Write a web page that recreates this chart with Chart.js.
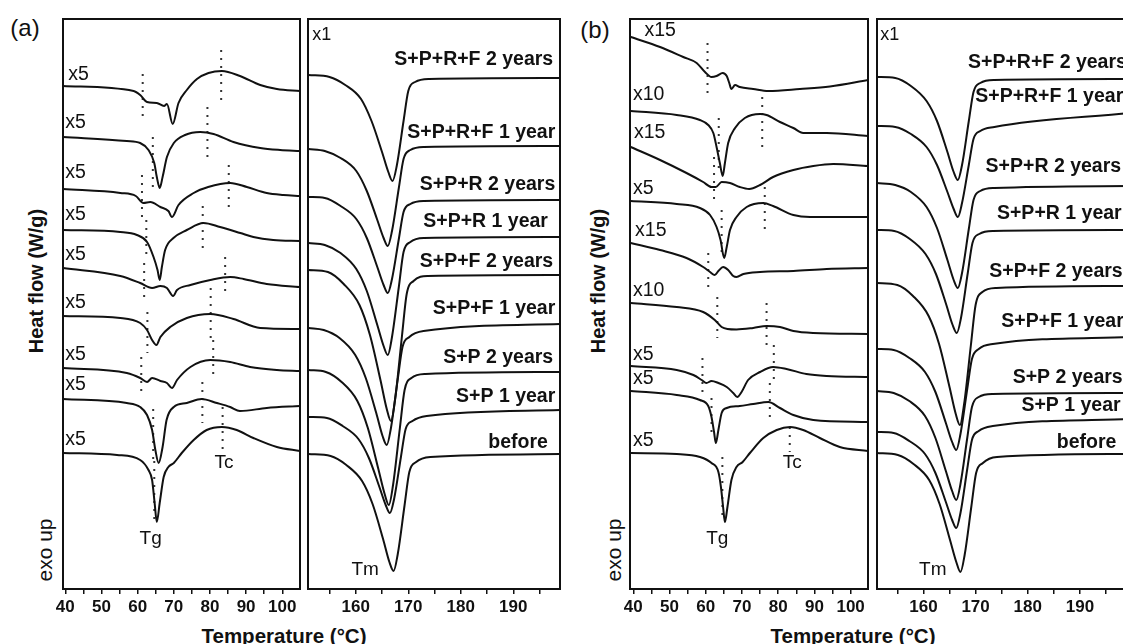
<!DOCTYPE html>
<html>
<head>
<meta charset="utf-8">
<title>DSC curves</title>
<script src="https://cdn.jsdelivr.net/npm/chart.js@4.4.1/dist/chart.umd.min.js"></script>
<style>
  html, body { margin: 0; padding: 0; background: #fff; }
  body { width: 1123px; height: 644px; overflow: hidden; position: relative;
         font-family: "Liberation Sans", Arial, sans-serif; color: #111; }
  canvas { position: absolute; }
  .txt { position: absolute; white-space: nowrap; line-height: 1; }
  .rot { transform: translate(-50%, -50%) rotate(-90deg); }
  .ctr { transform: translate(-50%, -50%); }
</style>
</head>
<body>
<div class="txt ctr" style="left:25px;top:28px;font-size:24px">(a)</div>
<div class="txt ctr" style="left:595px;top:30px;font-size:24px">(b)</div>
<div class="txt rot" style="left:36px;top:281px;font-size:20px;font-weight:bold">Heat flow (W/g)</div>
<div class="txt rot" style="left:598px;top:281px;font-size:20px;font-weight:bold">Heat flow (W/g)</div>
<div class="txt rot" style="left:44px;top:550px;font-size:21px">exo up</div>
<div class="txt rot" style="left:613px;top:550px;font-size:21px">exo up</div>
<div class="txt" style="left:284px;top:626px;font-size:20.5px;font-weight:bold;transform:translateX(-50%)">Temperature (°C)</div>
<div class="txt" style="left:853px;top:626px;font-size:20.5px;font-weight:bold;transform:translateX(-50%)">Temperature (°C)</div>

<canvas id="aLow" width="269" height="616" style="left:47px;top:13px"></canvas>
<canvas id="aHigh" width="284" height="616" style="left:292px;top:13px"></canvas>
<canvas id="bLow" width="270" height="616" style="left:614px;top:13px"></canvas>
<canvas id="bHigh" width="285" height="616" style="left:861px;top:13px"></canvas>

<script>
// ---- tick labels ----
const LOW_MAJOR = [40, 50, 60, 70, 80, 90, 100];
const LOW_MINOR = [45, 55, 65, 75, 85, 95];
const HIGH_MAJOR = [160, 170, 180, 190];
const HIGH_MINOR = [155, 165, 175, 185, 195];

// ---- sample names (top to bottom) and magnification of the low-T curves ----
const SAMPLES = ['S+P+R+F 2 years', 'S+P+R+F 1 year', 'S+P+R 2 years', 'S+P+R 1 year',
  'S+P+F 2 years', 'S+P+F 1 year', 'S+P 2 years', 'S+P 1 year', 'before'];
const FACTOR_A = ['x5', 'x5', 'x5', 'x5', 'x5', 'x5', 'x5', 'x5', 'x5'];
const FACTOR_B = ['x15', 'x10', 'x15', 'x5', 'x15', 'x10', 'x5', 'x5', 'x5'];

// ---- (a) 40-105 °C, [T, heat flow (a.u., shifted)] ----
const aLow1 = [[39.4,50.3],[58.9,49.8],[60.7,49.4],[62.6,48.7],[65.3,48.6],[67.3,48.3],[68.1,48.5],[69.7,46.5],[71.3,48.6],[73.6,49.9],[76.4,51.0],[79.6,51.6],[83.3,51.8],[88.3,51.3],[93.9,50.4],[98.5,50.0],[104.9,49.8]];
const aLow2 = [[39.4,45.2],[57.0,44.8],[60.7,44.6],[63.0,43.9],[64.6,42.6],[65.3,41.2],[66.1,40.1],[66.9,41.2],[68.1,43.2],[70.0,44.6],[73.1,45.4],[77.3,45.7],[81.0,45.5],[86.5,44.7],[93.9,44.1],[99.4,43.9],[104.9,43.8]];
const aLow3 = [[39.4,40.0],[55.2,39.6],[59.5,39.3],[61.6,38.6],[63.5,38.7],[66.3,38.2],[68.5,37.8],[69.5,37.2],[71.3,38.4],[75.5,39.6],[79.5,40.2],[85.6,40.6],[90.2,40.2],[95.7,39.6],[100.3,39.4],[104.9,39.3]];
const aLow4 = [[39.4,35.9],[55.2,35.7],[59.8,35.4],[62.6,34.7],[64.4,33.2],[65.5,31.9],[66.1,30.9],[66.7,32.2],[67.6,33.9],[69.9,35.1],[73.6,35.9],[78.2,36.6],[82.8,36.2],[88.4,35.6],[92.0,35.2],[97.5,34.9],[104.9,34.8]];
const aLow5 = [[39.4,32.1],[55.2,31.3],[60.7,30.6],[64.0,30.1],[66.3,30.3],[68.1,30.1],[69.8,29.3],[70.9,29.9],[74.6,30.4],[80.1,30.9],[85.6,31.2],[89.3,31.0],[95.7,30.5],[104.9,30.2]];
const aLow6 = [[39.4,27.3],[55.2,27.1],[60.7,26.6],[62.6,25.9],[64.0,24.9],[65.2,24.4],[66.3,25.2],[69.0,26.2],[73.6,27.1],[80.1,27.5],[86.5,27.0],[93.9,26.1],[104.9,26.0]];
const aLow7 = [[39.4,22.1],[57.0,21.6],[60.7,21.1],[62.6,20.7],[64.0,21.1],[66.3,20.8],[68.1,20.6],[69.5,20.1],[70.9,20.9],[74.6,22.2],[80.1,22.9],[85.6,22.7],[91.1,22.2],[98.5,21.9],[104.9,21.8]];
const aLow8 = [[39.4,19.0],[57.0,18.6],[60.7,18.2],[62.6,17.4],[64.0,15.9],[64.9,13.9],[65.8,12.6],[66.9,14.2],[68.0,16.9],[70.0,18.2],[73.6,18.6],[77.7,19.0],[81.9,18.6],[85.6,18.2],[88.3,17.8],[95.7,18.1],[104.9,18.3]];
const aLow9 = [[39.4,13.6],[54.3,13.4],[60.7,12.9],[63.0,11.9],[64.0,10.9],[64.7,8.6],[65.3,6.7],[66.1,8.6],[67.2,11.2],[68.5,12.2],[70.0,12.6],[72.2,13.6],[75.5,14.9],[79.1,15.9],[83.3,16.2],[87.4,15.9],[92.0,15.1],[98.5,14.2],[104.9,13.8]];

// dotted marks [T, top, bottom]
const A_TG = [[61.4,51.5,47.2],[64.2,45.2,40.2],[61.2,41.4,37.2],[62.4,36.9,33.0],[61.8,32.6,28.9],[62.7,27.7,23.6],[61.0,23.2,19.6],[64.3,18.0,13.0],[64.6,12.8,6.9]];
const A_TC = [[83.1,53.9,48.9],[79.3,48.2,43.2],[85.2,42.4,38.2],[78.0,38.3,34.1],[84.2,33.2,29.2],[80.2,30.1,25.0],[80.9,24.9,20.9],[77.9,20.7,16.6],[83.5,18.2,13.8]];

// ---- (a) 150-200 °C ----
const aHigh1 = [[151,51.4],[155,51.2],[158,50.4],[161,49.0],[163,46.8],[165,43.7],[166.2,41.7],[167,40.8],[167.8,42.3],[169.1,46.8],[170,49.8],[171.3,50.7],[174,51.0],[199,51.1]];
const aHigh2 = [[151,44.0],[154.1,43.8],[157.1,43.1],[160.1,41.8],[162.1,39.8],[164.1,36.9],[165.3,35.1],[166.1,34.3],[166.9,35.8],[168.2,40.1],[169.1,43.0],[170.4,43.9],[173,44.2],[199,44.3]];
const aHigh3 = [[151,39.2],[154.1,39.1],[157.1,38.3],[160.1,37.0],[162.1,35.1],[164.1,32.2],[165.3,30.4],[166.1,29.6],[166.9,31.0],[168.2,35.0],[169.1,37.7],[170.4,38.5],[173,38.8],[199,38.9]];
const aHigh4 = [[151,34.6],[154.1,34.4],[157.1,33.6],[160.1,32.0],[162.1,29.8],[164.1,26.4],[165.3,24.3],[166.1,23.4],[166.9,25.2],[168.2,30.2],[169.1,33.7],[170.4,34.7],[173,35.1],[199,35.2]];
const aHigh5 = [[151,31.9],[154.7,31.7],[157.7,30.5],[160.7,28.4],[162.7,25.4],[164.7,20.9],[165.9,18.0],[166.7,16.8],[167.5,19.0],[168.8,25.3],[169.7,29.5],[171,30.8],[173.7,31.3],[199,31.4]];
const aHigh6 = [[151,26.1],[153.9,25.9],[156.9,25.1],[159.9,23.4],[161.9,21.1],[163.9,17.6],[165.1,15.3],[165.9,14.4],[166.7,16.1],[168.0,21.0],[168.9,24.2],[170.2,25.2],[172.9,25.8],[199,26.5]];
const aHigh7 = [[151,21.9],[154.3,21.7],[157.3,20.7],[160.3,18.8],[162.3,16.1],[164.3,12.0],[165.5,9.5],[166.3,8.4],[167.1,10.4],[168.4,16.1],[169.3,19.9],[170.6,21.1],[173.3,21.5],[199,21.7]];
const aHigh8 = [[151,17.2],[154.5,17.1],[157.5,16.3],[160.5,15.0],[162.5,13.1],[164.5,10.2],[165.7,8.4],[166.5,7.6],[167.3,9.0],[168.6,13.2],[169.5,16.0],[170.8,16.8],[173.5,17.3],[199,17.9]];
const aHigh9 = [[151,13.5],[155.2,13.3],[158.2,12.4],[161.2,10.8],[163.2,8.5],[165.2,5.0],[166.4,2.7],[167.2,1.8],[168,3.5],[169.3,8.4],[170.2,11.7],[171.5,12.7],[174.2,13.2],[199,13.5]];

// ---- (b) 40-105 °C ----
const bLow1 = [[39.3,55.2],[47.4,54.2],[53.8,53.2],[57.5,52.6],[59.8,51.7],[61.6,51.2],[63.0,51.3],[64.7,51.6],[65.8,51.3],[66.5,50.6],[67.1,50.0],[68.1,50.4],[69.4,50.2],[73.1,50.0],[77.3,49.8],[86.0,50.0],[94.3,50.25],[104.9,50.9]];
const bLow2 = [[39.3,47.8],[52.0,47.4],[58.4,46.9],[60.7,46.4],[62.1,45.6],[63.0,44.2],[63.9,42.6],[64.7,41.3],[65.3,42.6],[66.2,44.6],[68.1,46.1],[70.8,47.1],[75.0,47.5],[76.8,47.4],[80.5,46.7],[84.2,46.1],[86.9,45.6],[93.4,45.6],[104.9,45.3]];
const bLow3 = [[39.3,44.2],[47.4,42.9],[54.7,41.6],[59.3,40.7],[61.6,40.2],[62.8,40.2],[64.4,40.7],[66.7,40.6],[69.4,40.2],[72.0,40.0],[75.0,40.4],[78.6,41.2],[84.2,41.9],[89.7,42.3],[95.2,42.5],[104.9,42.3]];
const bLow4 = [[39.3,38.8],[52.0,38.5],[58.4,38.1],[61.2,37.4],[63.0,36.2],[64.1,34.9],[65.1,33.1],[65.8,34.2],[66.7,35.9],[68.5,37.2],[71.3,38.2],[75.9,38.6],[78.6,38.3],[84.2,37.4],[88.8,37.2],[104.9,37.2]];
const bLow5 = [[39.3,34.6],[47.4,33.9],[54.7,33.1],[59.3,32.2],[61.2,31.7],[62.5,31.4],[63.5,31.8],[64.8,32.2],[66.2,31.9],[67.6,31.3],[68.5,31.2],[70.4,31.5],[75.0,31.7],[84.2,31.8],[93.4,32.0],[104.9,32.1]];
const bLow6 = [[39.3,28.6],[52.0,28.2],[59.3,27.7],[62.5,26.9],[64.4,26.2],[66.0,26.0],[68.5,25.95],[73.1,26.1],[76.8,26.3],[80.5,26.2],[84.2,25.8],[89.7,25.6],[104.9,25.5]];
const bLow7 = [[39.3,22.3],[52.0,21.9],[56.6,21.4],[58.9,20.9],[60.2,20.6],[61.6,20.8],[63.5,20.6],[65.8,20.2],[67.6,19.6],[68.7,19.2],[69.9,19.7],[71.7,20.9],[75.0,21.7],[78.6,22.2],[82.3,22.0],[87.8,21.5],[93.4,21.3],[104.9,21.2]];
const bLow8 = [[39.3,19.8],[52.0,19.4],[58.4,18.9],[60.7,18.3],[61.6,17.2],[62.3,15.7],[62.8,14.6],[63.5,15.9],[64.4,17.6],[65.8,18.1],[69.4,18.3],[73.1,18.5],[77.3,18.7],[80.5,18.1],[84.2,17.4],[89.7,16.9],[104.9,16.7]];
const bLow9 = [[39.3,13.6],[52.0,13.5],[58.4,13.2],[61.6,12.6],[63.5,11.7],[64.2,10.2],[64.8,8.2],[65.3,6.7],[66.0,8.2],[67.1,10.9],[68.5,12.2],[70.2,12.7],[72.2,13.6],[75.9,15.1],[79.6,15.9],[83.3,16.2],[86.9,15.9],[91.5,15.1],[97.0,14.2],[104.9,13.8]];

const B_TG = [[60.5,54.6,49.6],[63.6,47.1,41.9],[62.3,43.2,38.9],[64.4,37.9,33.6],[60.7,33.6,29.6],[63.2,29.2,25.1],[59.1,23.1,19.6],[61.6,19.1,15.6],[64.6,13.2,6.9]];
const B_TC = [[75.6,49.2,44.2],[76.3,40.2,35.9],[76.8,28.6,24.4],[78.8,24.4,20.9],[77.7,20.6,16.6],[83.2,16.2,13.7]];

// ---- (b) 150-200 °C ----
const bHigh1 = [[151,51.2],[154.6,51.1],[157.6,50.3],[160.6,48.8],[162.6,46.8],[164.6,43.7],[165.8,41.7],[166.6,40.9],[167.4,42.4],[168.7,46.8],[169.6,49.7],[170.9,50.6],[173.6,50.9],[199.6,51.0]];
const bHigh2 = [[151,46.3],[154.6,46.2],[157.6,45.5],[160.6,44.2],[162.6,42.4],[164.6,39.7],[165.8,38.0],[166.6,37.2],[167.4,38.6],[168.7,42.4],[169.6,45.0],[170.9,45.8],[173.6,46.2],[199.6,47.6]];
const bHigh3 = [[151,40.6],[154.6,40.4],[157.6,39.7],[160.6,38.2],[162.6,36.1],[164.6,32.9],[165.8,30.9],[166.6,30.1],[167.4,31.6],[168.7,36.0],[169.6,38.9],[170.9,39.8],[173.6,40.1],[199.6,40.3]];
const bHigh4 = [[151,35.9],[154.4,35.8],[157.4,35.0],[160.4,33.5],[162.4,31.5],[164.4,28.4],[165.6,26.4],[166.4,25.6],[167.2,27.1],[168.5,31.6],[169.4,34.6],[170.7,35.5],[173.4,35.8],[199.6,35.9]];
const bHigh5 = [[151,30.6],[155,30.4],[158,29.3],[161,27.3],[163,24.5],[165,20.2],[166.2,17.5],[167,16.4],[167.8,18.5],[169.1,24.4],[170,28.4],[171.3,29.7],[174,30.1],[199.6,30.3]];
const bHigh6 = [[151,24.0],[154.3,23.9],[157.3,23.1],[160.3,21.7],[162.3,19.7],[164.3,16.6],[165.5,14.7],[166.3,13.9],[167.1,15.5],[168.4,20.0],[169.3,23.0],[170.6,24.0],[173.3,24.5],[199.6,25.2]];
const bHigh7 = [[151,19.8],[154.3,19.6],[157.3,18.8],[160.3,17.3],[162.3,15.1],[164.3,11.8],[165.5,9.8],[166.3,8.9],[167.1,10.5],[168.4,15.1],[169.3,18.2],[170.6,19.2],[173.3,19.5],[199.6,19.6]];
const bHigh8 = [[151,15.7],[154.3,15.6],[157.3,14.8],[160.3,13.5],[162.3,11.6],[164.3,8.7],[165.5,6.9],[166.3,6.1],[167.1,7.6],[168.4,12.0],[169.3,14.9],[170.6,15.8],[173.3,16.3],[199.6,17.0]];
const bHigh9 = [[151,13.6],[155.1,13.4],[158.1,12.5],[161.1,10.9],[163.1,8.5],[165.1,4.9],[166.3,2.7],[167.1,1.7],[167.9,3.4],[169.2,8.3],[170.1,11.6],[171.4,12.6],[174.1,13.2],[199.6,13.5]];

// ---- where the annotations sit, in axis units ----
const A_FACTOR_AT = [[40.8,51.4],[40.0,46.6],[40.0,41.6],[40.0,37.4],[40.0,33.4],[40.0,28.6],[40.0,23.4],[40.0,20.4],[40.0,14.9]];
const B_FACTOR_AT = [[43.1,55.8],[39.9,49.4],[40.2,45.6],[39.9,40.0],[40.5,35.8],[39.9,29.8],[39.9,23.4],[39.9,21.0],[39.9,14.8]];
const A_NAME_AT = [[197.6,52.9],[198.0,45.6],[198.0,40.4],[196.6,36.7],[197.6,32.7],[198.0,28.0],[197.6,23.1],[198.0,19.2],[196.6,14.6]];
const B_NAME_AT = [[199.0,52.6],[198.3,49.2],[197.9,42.2],[198.0,37.5],[198.2,31.7],[198.4,26.7],[198.2,21.1],[197.8,18.3],[197.0,14.6]];

const FONT = '"Liberation Sans", Arial, sans-serif';
const INK = '#111';

// caixa em volta da área do gráfico
const framePlugin = {
  id: 'frame',
  afterDatasetsDraw(chart) {
    const { ctx, chartArea: a } = chart;
    ctx.save();
    ctx.strokeStyle = INK;
    ctx.lineWidth = 2;
    ctx.strokeRect(a.left, a.top, a.right - a.left, a.bottom - a.top);
    ctx.restore();
  }
};

function notesPlugin(items) {
  return {
    id: 'notes',
    afterDraw(chart) {
      const { ctx, scales: { x, y } } = chart;
      items.forEach(n => {
        ctx.save();
        ctx.font = n.font;
        ctx.fillStyle = INK;
        ctx.textAlign = n.align || 'left';
        ctx.textBaseline = 'middle';
        ctx.fillText(n.text, x.getPixelForValue(n.x), y.getPixelForValue(n.y));
        ctx.restore();
      });
    }
  };
}

function montarDatasets(curvas, marcas) {
  const ds = curvas.map(c => ({
    data: c, borderColor: INK, borderWidth: 2, pointRadius: 0,
    cubicInterpolationMode: 'monotone', fill: false
  }));
  marcas.forEach(([t, topo, base]) => ds.push({
    data: [[t, topo], [t, base]], borderColor: '#333', borderWidth: 2,
    borderDash: [2, 6], pointRadius: 0, fill: false
  }));
  return ds;
}

function montarGrafico(id, cfg) {
  const todos = [...cfg.major, ...cfg.minor].sort((p, q) => p - q);
  return new Chart(document.getElementById(id), {
    type: 'line',
    data: { datasets: montarDatasets(cfg.curvas, cfg.marcas) },
    options: {
      responsive: false,
      animation: false,
      events: [],
      layout: { padding: { left: 16, right: 16, top: 6, bottom: 0 } },
      plugins: { legend: { display: false }, tooltip: { enabled: false } },
      scales: {
        x: {
          type: 'linear', min: cfg.min, max: cfg.max,
          afterBuildTicks: s => { s.ticks = todos.map(v => ({ value: v })); },
          afterFit: s => { s.height = 40; },
          ticks: {
            autoSkip: false, maxRotation: 0, padding: 3, color: INK,
            font: { family: FONT, size: 17, weight: 'bold' },
            callback: v => cfg.major.includes(v) ? String(v) : ''
          },
          grid: { drawOnChartArea: false, drawTicks: true, tickLength: 5, color: INK, lineWidth: 1.5 },
          border: { display: false }
        },
        y: { display: false, min: 0, max: 57 }
      }
    },
    plugins: [framePlugin, notesPlugin(cfg.notas)]
  });
}

const fFactor = '19.5px ' + FONT;
const fName = 'bold 19.5px ' + FONT;
const fMark = '19px ' + FONT;

function notasBaixas(fatores, posicoes, tg, tc) {
  const n = fatores.map((t, i) => ({ text: t, x: posicoes[i][0], y: posicoes[i][1], font: fFactor }));
  n.push({ text: 'Tg', x: tg[0], y: tg[1], font: fMark, align: 'center' });
  n.push({ text: 'Tc', x: tc[0], y: tc[1], font: fMark, align: 'center' });
  return n;
}

function notasAltas(posicoes, tm) {
  const n = SAMPLES.map((t, i) => ({ text: t, x: posicoes[i][0], y: posicoes[i][1], font: fName, align: 'right' }));
  n.push({ text: 'x1', x: 151.7, y: 55.4, font: '18px ' + FONT });
  n.push({ text: 'Tm', x: tm[0], y: tm[1], font: fMark, align: 'center' });
  return n;
}

montarGrafico('aLow', {
  min: 39.36, max: 104.9, major: LOW_MAJOR, minor: LOW_MINOR,
  curvas: [aLow1, aLow2, aLow3, aLow4, aLow5, aLow6, aLow7, aLow8, aLow9],
  marcas: [...A_TG, ...A_TC],
  notas: notasBaixas(FACTOR_A, A_FACTOR_AT, [63.6, 5.0], [83.9, 12.65])
});
montarGrafico('aHigh', {
  min: 150.9, max: 198.9, major: HIGH_MAJOR, minor: HIGH_MINOR,
  curvas: [aHigh1, aHigh2, aHigh3, aHigh4, aHigh5, aHigh6, aHigh7, aHigh8, aHigh9],
  marcas: [],
  notas: notasAltas(A_NAME_AT, [161.8, 1.9])
});
montarGrafico('bLow', {
  min: 39.1, max: 104.8, major: LOW_MAJOR, minor: LOW_MINOR,
  curvas: [bLow1, bLow2, bLow3, bLow4, bLow5, bLow6, bLow7, bLow8, bLow9],
  marcas: [...B_TG, ...B_TC],
  notas: notasBaixas(FACTOR_B, B_FACTOR_AT, [63.2, 5.0], [83.9, 12.65])
});
montarGrafico('bHigh', {
  min: 151.1, max: 199.6, major: HIGH_MAJOR, minor: HIGH_MINOR,
  curvas: [bHigh1, bHigh2, bHigh3, bHigh4, bHigh5, bHigh6, bHigh7, bHigh8, bHigh9],
  marcas: [],
  notas: notasAltas(B_NAME_AT, [161.8, 1.9])
});
</script>
</body>
</html>
